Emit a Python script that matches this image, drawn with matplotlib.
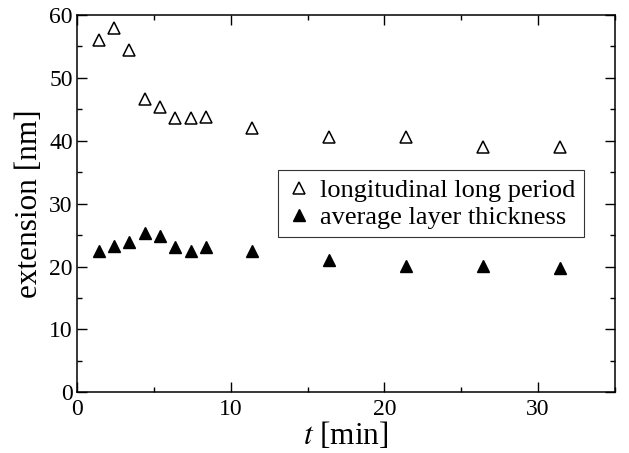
import matplotlib
matplotlib.use("Agg")
import matplotlib.pyplot as plt
from matplotlib.ticker import MultipleLocator

plt.rcParams["font.family"] = ["Liberation Serif", "DejaVu Serif"]
plt.rcParams["mathtext.fontset"] = "stix"

# data
t_min = [1.4, 2.4, 3.4, 4.4, 5.4, 6.4, 7.4, 8.4, 11.4, 16.4, 21.4, 26.4, 31.4]
long_period = [56.0, 57.9, 54.4, 46.7, 45.3, 43.6, 43.6, 43.7, 42.1, 40.6, 40.6, 39.0, 39.0]
layer_thickness = [22.4, 23.3, 23.9, 25.4, 24.8, 23.1, 22.5, 23.1, 22.5, 21.0, 20.1, 20.1, 19.8]

fig = plt.figure(figsize=(6.29, 4.53), dpi=100)
ax = fig.add_axes([0.1224, 0.134, 0.8553, 0.833])

ax.plot(t_min, long_period, linestyle="none", marker="^", markersize=8,
        markerfacecolor="white", markeredgecolor="black", markeredgewidth=1.1,
        label="longitudinal long period")
ax.plot(t_min, layer_thickness, linestyle="none", marker="^", markersize=9,
        color="black", label="average layer thickness")

ax.set_xlim(0, 35)
ax.set_ylim(0, 60)
ax.xaxis.set_major_locator(MultipleLocator(10))
ax.xaxis.set_minor_locator(MultipleLocator(5))
ax.yaxis.set_major_locator(MultipleLocator(10))
ax.yaxis.set_minor_locator(MultipleLocator(5))
ax.tick_params(which="both", direction="in", top=True, right=True, labelsize=17, width=1.0)
ax.tick_params(which="major", length=7)
ax.tick_params(which="minor", length=3.5)
ax.tick_params(axis="x", pad=5)
ax.tick_params(axis="y", pad=3)
for s in ax.spines.values():
    s.set_linewidth(1.1)

ax.set_xlabel("$t$ [min]", fontsize=22.5, labelpad=0)
ax.set_ylabel("extension [nm]", fontsize=22.5, labelpad=4)

leg = ax.legend(loc="upper right", bbox_to_anchor=(0.942, 0.588), borderaxespad=0,
                fontsize=19, frameon=True, fancybox=False, handlelength=1.0,
                handletextpad=0.3, borderpad=0.3, labelspacing=0.15)
leg.get_frame().set_edgecolor("black")
leg.get_frame().set_linewidth(0.8)

fig.savefig("out.png", dpi=100)
